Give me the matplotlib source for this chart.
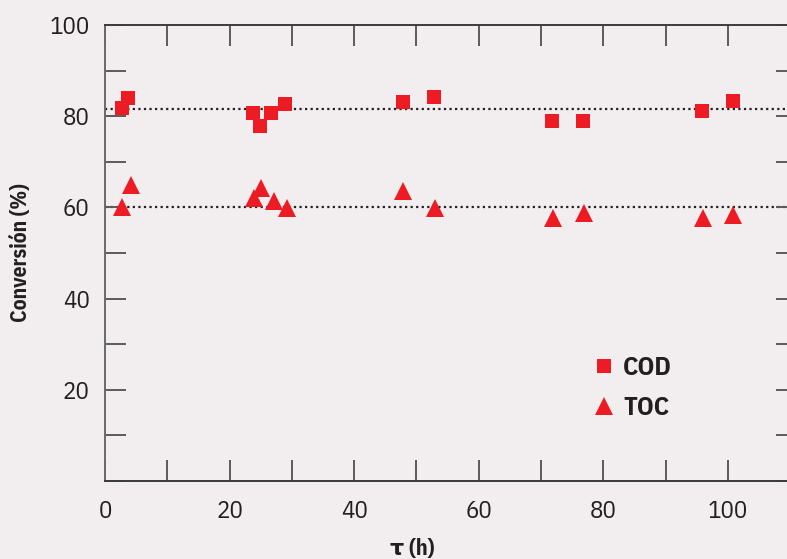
import matplotlib
matplotlib.use("Agg")
import matplotlib.pyplot as plt
from matplotlib.ticker import MultipleLocator

plt.rcParams['font.family'] = ['IBM Plex Sans Condensed', 'DejaVu Sans']

# Residence time (h) and conversion (%)
cod_t = [2.7, 3.7, 23.8, 24.9, 26.7, 28.9, 47.8, 52.8, 71.7, 76.8, 95.8, 100.8]
cod_conv = [81.8, 84.0, 80.6, 77.8, 80.6, 82.7, 83.1, 84.2, 78.9, 78.9, 81.1, 83.4]

toc_t = [2.8, 4.2, 23.9, 25.1, 27.1, 29.2, 47.9, 53.0, 71.9, 76.9, 96.0, 100.8]
toc_conv = [60.0, 65.0, 62.0, 64.2, 61.3, 59.8, 63.6, 59.9, 57.7, 58.8, 57.7, 58.3]

cod_mean = 81.6
toc_mean = 60.0

bg = '#f2eef0'
red = '#ed1c24'
txt = '#231f20'

fig = plt.figure(figsize=(7.87, 5.59), dpi=100, facecolor=bg)
ax = fig.add_axes([105 / 787, 78 / 559, 1 - 105 / 787, 456 / 559])
ax.set_facecolor(bg)

ax.set_xlim(0, 109.5)
ax.set_ylim(0, 100)

ax.axhline(cod_mean, color='#231f20', linestyle=(0, (1, 1.5)), linewidth=1.6, zorder=1)
ax.axhline(toc_mean, color='#231f20', linestyle=(0, (1, 1.5)), linewidth=1.6, zorder=1)

ax.plot(cod_t, cod_conv, linestyle='none', marker='s', markersize=10.3,
        color=red, markeredgewidth=0, label='COD', zorder=3)
ax.plot(toc_t, toc_conv, linestyle='none', marker='^', markersize=12.5,
        color=red, markeredgewidth=0, label='TOC', zorder=3)

ax.spines['right'].set_visible(False)
ax.spines['left'].set_color('#6a6a6a')
ax.spines['top'].set_color('#3c3c3c')
ax.spines['bottom'].set_color('#3c3c3c')
for s in ['left', 'top', 'bottom']:
    ax.spines[s].set_linewidth(1.4)

ax.xaxis.set_major_locator(MultipleLocator(20))
ax.xaxis.set_minor_locator(MultipleLocator(10))
ax.set_yticks([0, 20, 40, 60, 80, 100])
ax.set_yticklabels(['', '20', '40', '60', '80', '100'])
ax.yaxis.set_minor_locator(MultipleLocator(10))

ax.tick_params(which='both', direction='in', length=15, width=1.4, color='#5a5a5a',
               top=True, right=True, bottom=True, left=True)
ax.tick_params(which='major', labelsize=18, labelcolor=txt)
ax.tick_params(axis='x', which='major', pad=14)
ax.tick_params(axis='y', which='major', pad=11)

# shorter ticks on the right-hand side
for tk in ax.yaxis.get_major_ticks() + ax.yaxis.get_minor_ticks():
    tk.tick2line.set_markersize(8)

ax.set_ylabel('Conversión (%)', fontsize=15.5, fontweight='bold', color=txt)
ax.yaxis.set_label_coords(-74 / 682, 0.5)
ax.set_xlabel('τ (h)', fontsize=16, fontweight='bold', color=txt)
ax.xaxis.set_label_coords((412 - 105) / 682, -57 / 456)

leg = ax.legend(loc='upper left', bbox_to_anchor=(486 / 682, (481 - 356) / 456),
                frameon=False, fontsize=19, handletextpad=0.22, labelspacing=0.62,
                handlelength=1.0, borderpad=0, borderaxespad=0)
for t in leg.get_texts():
    t.set_fontweight('bold')
    t.set_color(txt)

fig.savefig('out.png', dpi=100, facecolor=bg)
